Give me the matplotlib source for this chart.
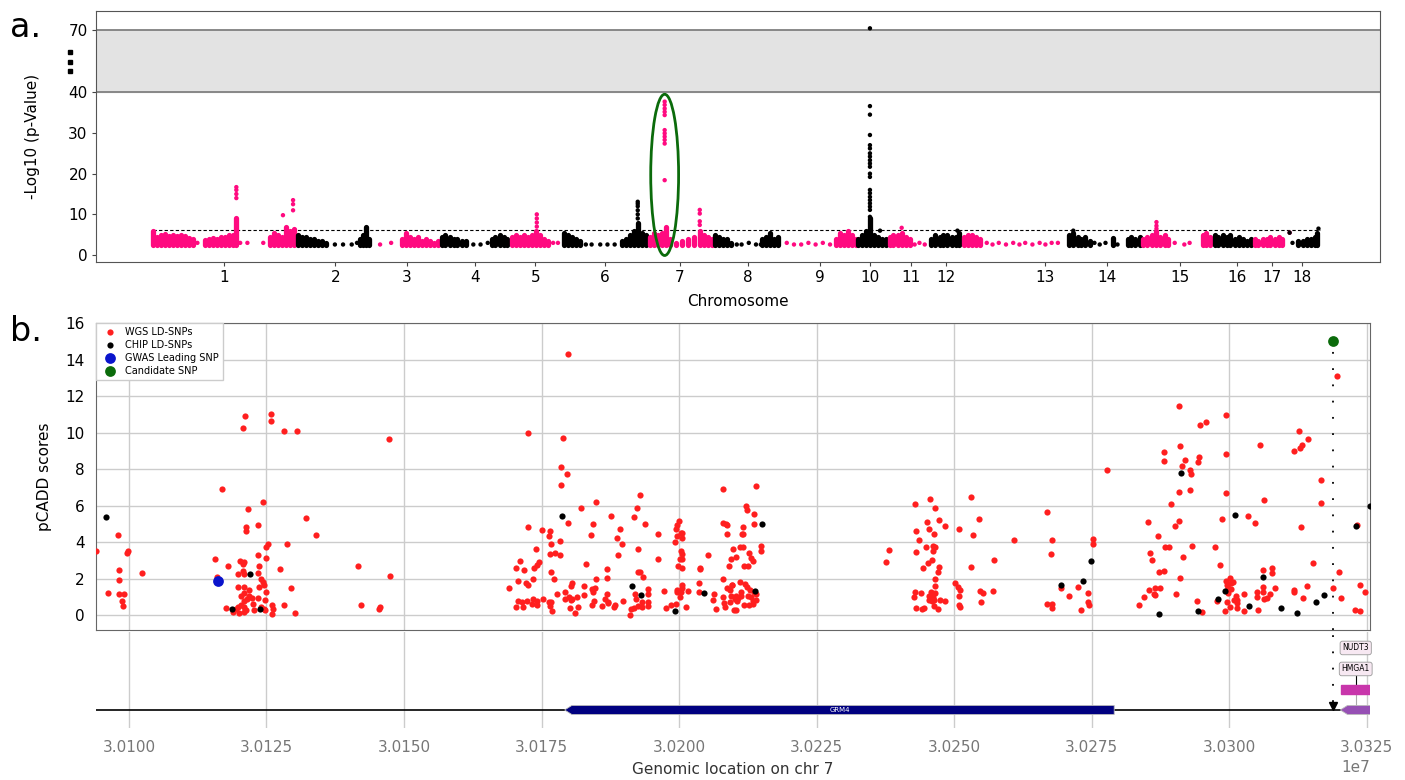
import numpy as np
import matplotlib.pyplot as plt
from matplotlib.patches import Ellipse, Polygon, Rectangle
from matplotlib.ticker import MultipleLocator

plt.rcParams['font.family'] = ['DejaVu Sans']

# ---------------- panel a: GWAS manhattan ----------------
chrom_names = [str(i) for i in range(1, 19)]
chrom_len = [297, 158, 141, 146, 108, 179, 135, 144, 156, 64, 87, 69, 218, 156, 146, 83, 71, 69]
chrom_tick = [148, 379, 528, 670, 795, 940, 1096, 1237, 1387, 1491, 1577, 1650, 1855, 1984, 2136, 2255, 2328, 2390]

# dense SNP columns: chromosome, position in chromosome (Mb), top -log10 p
col_chr = ([1] * 27 + [2] * 12 + [3] * 10 + [4] * 12 + [5] * 10 + [6] * 12 + [7] * 14 + [8] * 10
           + [9] * 6 + [10] * 8 + [11] * 6 + [12] * 8 + [13] * 5 + [14] * 11 + [15] * 10
           + [16] * 10 + [17] * 8 + [18] * 6)
col_pos = [0, 8, 17, 25, 33, 42, 50, 58, 67, 75, 83, 108, 116, 125, 133, 141, 150, 158, 166, 173,
           243, 252, 260, 268, 277, 285, 293,
           4, 12, 21, 29, 37, 46, 54, 62, 133, 139, 146, 152,
           62, 71, 79, 87, 96, 104, 112, 121, 129, 137,
           4, 12, 21, 29, 37, 46, 54, 108, 116, 125, 133, 141,
           4, 12, 21, 29, 37, 46, 54, 62, 71, 79,
           4, 12, 21, 29, 37, 125, 133, 141, 150, 158, 166, 175,
           4, 12, 21, 29, 37, 46, 58, 71, 83, 96, 108, 116, 125, 133,
           4, 12, 21, 29, 37, 102, 110, 119, 127, 135,
           112, 121, 129, 137, 146, 154,
           2, 10, 19, 27, 35, 44, 52, 60,
           4, 12, 21, 29, 37, 46,
           4, 12, 21, 29, 37, 46, 54, 62,
           2, 10, 19, 27, 35,
           4, 12, 21, 29, 37, 46, 94, 125, 133, 141, 150,
           2, 10, 19, 29, 37, 46, 54, 125, 133, 141,
           4, 12, 21, 29, 37, 46, 54, 62, 71, 79,
           4, 12, 21, 29, 37, 46, 54, 62,
           23, 33, 42, 50, 58, 64]
col_top = [6, 4.5, 5, 5.3, 4.6, 5, 4.6, 5, 4.6, 4.2, 4, 3.8, 4, 4.2, 4, 4.5, 4.5, 5, 5, 9,
           4.5, 5.5, 5, 4.5, 7, 6, 6.5,
           5, 4.5, 4.5, 4, 4, 3.5, 3.5, 3, 4, 5, 7, 4,
           4, 5.5, 4.5, 4, 4.5, 3.5, 4, 3.5, 3, 3.5,
           4.5, 5, 4.5, 4, 4, 3.5, 3.5, 4, 4.5, 5, 4.5, 4,
           4.5, 5, 4.5, 5, 4.5, 5, 6, 5, 4, 3.5,
           5.5, 5, 4.5, 4, 3.5, 3.5, 4, 5, 6, 8, 5.5, 5,
           4.5, 5.5, 5, 5.5, 7, 4, 3, 3.5, 4, 4.5, 6, 5, 4.5, 4,
           5, 4.5, 4, 4, 3, 4, 4.5, 5.5, 4, 4.5,
           4, 5.5, 5, 6, 5, 4,
           4, 5, 6, 9, 5, 4.5, 4, 4,
           4.5, 5, 5, 5.5, 4.5, 4,
           4, 5, 4.5, 5, 5, 4.5, 4.5, 5.5,
           4.5, 5, 5, 4.5, 4,
           5, 5.5, 4.5, 4, 4.5, 3.5, 4.2, 4, 4.5, 4, 4.5,
           4, 4.5, 5, 6, 4.5, 5, 4, 5, 5.5, 4.5,
           5, 4.5, 5, 4.5, 5, 4, 4.5, 4, 3.5, 4,
           4, 3.5, 4, 4, 4.5, 4, 4.5, 4,
           3.5, 3.5, 4, 4, 4.5, 5.5]

# single SNPs (sparse ones and the tall peaks)
dot_chr = ([1] * 12 + [2] * 4 + [3] * 2 + [4] * 3 + [5] * 6 + [6] * 11 + [7] * 15 + [8] * 5
           + [9] * 7 + [10] * 22 + [11] * 4 + [12] * 1 + [13] * 12 + [14] * 5 + [15] * 6 + [17] * 1
           + [18] * 3)
dot_pos = [92, 181, 196, 229, 173, 173, 173, 173, 270, 291, 291, 291,
           81, 98, 116, 127,
           17, 40,
           70, 85, 100,
           90, 100, 56, 56, 56, 56,
           50, 62, 80, 95, 110, 158, 158, 158, 158, 158, 158,
           35, 35, 35, 35, 35, 35, 35, 35, 35, 35, 35, 108, 108, 108, 108,
           50, 60, 75, 90, 100,
           10, 25, 40, 55, 70, 85, 100,
           27, 27, 27, 27, 27, 27, 27, 27, 27, 27, 27, 27, 27, 27, 27, 27, 27, 27, 27, 27, 27, 48,
           29, 56, 66, 77,
           58,
           50, 62, 75, 90, 105, 118, 130, 145, 160, 172, 185, 198,
           12, 56, 67, 79, 104,
           67, 87, 98, 29, 29, 29,
           77,
           6, 12, 66]
dot_val = [3, 3, 3, 3, 14, 15, 16, 16.7, 9.8, 11, 12.5, 13.5,
           2.6, 2.6, 2.6, 3,
           2.6, 3,
           2.6, 2.6, 3,
           3, 3, 7, 8, 9, 10,
           2.6, 2.6, 2.6, 2.6, 2.6, 9, 10, 11, 12, 12.6, 13.1,
           18.4, 27.4, 28.3, 29.1, 29.9, 30.7, 34.4, 35.2, 36.0, 36.9, 37.7, 7.4, 8.3, 10.2, 11.1,
           2.6, 2.6, 3, 2.6, 2.6,
           3, 2.6, 2.6, 3, 2.6, 3, 2.6,
           9.4, 11.1, 11.9, 12.7, 13.5, 14.3, 15.2, 16.0, 19.2, 20.0, 21.7, 22.5, 23.3, 24.2, 25.0,
           26.2, 27.0, 29.5, 34.5, 36.6, 71, 6,
           6.7, 2.6, 3, 2.6,
           6,
           3, 2.6, 3, 2.6, 3, 2.6, 3, 2.6, 3, 2.6, 3, 3,
           6, 3, 2.6, 3, 2.6,
           3, 2.6, 3, 6.5, 7.2, 8.1,
           5.5,
           5.5, 3, 6.5]
threshold = 6.1

# ---------------- panel b: LD SNPs (kb on chr 7) ----------------
wgs_snps = [
    (30121.1, 10.9), (30125.8, 11.0), (30125.8, 10.64), (30120.7, 10.27), (30128.1, 10.09), (30130.5, 10.09),
    (30147.2, 9.67), (30117.0, 6.92), (30124.3, 6.23), (30121.7, 5.83), (30132.1, 5.32), (30123.5, 4.94),
    (30121.3, 4.85), (30121.3, 4.61), (30098.0, 4.39), (30134.0, 4.39), (30128.8, 3.90), (30125.2, 3.92),
    (30124.9, 3.73), (30094.0, 3.52), (30099.8, 3.53), (30099.6, 3.44), (30115.7, 3.11), (30125.0, 3.13),
    (30123.4, 3.30), (30120.2, 3.00), (30121.0, 2.93), (30120.8, 2.82), (30118.0, 2.68), (30123.6, 2.70),
    (30098.1, 2.51), (30127.4, 2.55), (30141.7, 2.71), (30102.4, 2.33), (30120.8, 2.44), (30119.9, 2.28),
    (30121.0, 2.26), (30123.4, 2.31), (30098.2, 1.91), (30116.0, 2.08), (30124.0, 1.97), (30124.3, 1.80),
    (30147.4, 2.13), (30124.5, 1.68), (30123.7, 1.55), (30119.9, 1.53), (30121.0, 1.58), (30129.4, 1.49),
    (30121.8, 1.40), (30096.1, 1.24), (30098.1, 1.15), (30099.1, 1.17), (30121.0, 1.24), (30124.9, 1.26),
    (30120.3, 1.07), (30121.9, 1.07), (30122.4, 0.95), (30123.4, 0.95), (30121.4, 0.91), (30098.7, 0.77),
    (30120.9, 0.80), (30124.8, 0.82), (30122.6, 0.64), (30120.3, 0.58), (30128.2, 0.58), (30126.0, 0.58),
    (30099.0, 0.49), (30117.7, 0.42), (30119.9, 0.47), (30120.9, 0.44), (30121.3, 0.31), (30124.0, 0.46),
    (30124.5, 0.36), (30126.2, 0.36), (30124.7, 0.27), (30142.1, 0.55), (30145.6, 0.47), (30145.4, 0.36),
    (30119.0, 0.16), (30120.0, 0.13), (30120.9, 0.20), (30122.7, 0.31), (30126.0, 0.09), (30130.1, 0.15),
    (30119.5, 0.36),
    (30179.8, 14.32), (30172.5, 9.96), (30178.9, 9.73), (30178.6, 8.11), (30179.7, 7.74), (30178.5, 7.14),
    (30192.9, 6.58), (30184.9, 6.19), (30182.2, 5.87), (30192.3, 5.90), (30187.7, 5.45), (30191.8, 5.41),
    (30179.8, 5.08), (30184.4, 5.01), (30193.8, 5.01), (30172.5, 4.85), (30175.0, 4.66), (30176.5, 4.63),
    (30189.2, 4.75), (30176.3, 4.35), (30184.0, 4.41), (30188.8, 4.26), (30196.1, 4.48), (30178.3, 4.08),
    (30176.8, 3.88), (30189.7, 3.92), (30174.0, 3.62), (30176.6, 3.37), (30177.4, 3.41), (30178.3, 3.32),
    (30188.9, 3.33), (30192.5, 3.64), (30196.1, 3.10), (30171.0, 2.95), (30174.5, 2.93), (30170.3, 2.57),
    (30171.8, 2.48), (30173.7, 2.59), (30174.2, 2.75), (30183.0, 2.82), (30186.9, 2.55), (30192.5, 2.37),
    (30192.9, 2.37), (30176.7, 2.39), (30193.5, 2.09), (30170.8, 1.86), (30172.2, 1.77), (30172.6, 1.68),
    (30173.4, 2.00), (30177.2, 2.00), (30184.9, 1.99), (30186.9, 2.04), (30169.0, 1.51), (30180.5, 1.77),
    (30180.3, 1.60), (30182.7, 1.62), (30184.1, 1.46), (30184.7, 1.48), (30184.3, 1.29), (30194.4, 1.46),
    (30197.2, 1.33), (30177.8, 1.15), (30179.3, 1.26), (30180.0, 1.00), (30181.4, 1.00), (30182.7, 1.11),
    (30186.9, 1.18), (30192.0, 1.18), (30194.3, 1.15), (30170.7, 0.78), (30171.4, 0.73), (30172.4, 0.78),
    (30173.5, 0.87), (30174.1, 0.80), (30173.3, 0.64), (30174.2, 0.56), (30175.3, 0.87), (30176.4, 0.71),
    (30176.7, 0.71), (30179.2, 0.87), (30180.3, 0.82), (30180.6, 0.89), (30184.6, 0.77), (30186.5, 0.89),
    (30187.1, 0.75), (30188.4, 0.58), (30189.8, 0.78), (30192.1, 0.91), (30193.2, 0.71), (30194.3, 0.71),
    (30170.3, 0.46), (30171.6, 0.46), (30176.5, 0.49), (30176.9, 0.22), (30180.1, 0.40), (30181.7, 0.44),
    (30181.0, 0.11), (30184.2, 0.56), (30185.9, 0.53), (30187.0, 0.66), (30188.2, 0.46), (30191.3, 0.33),
    (30191.8, 0.40), (30191.1, 0.00), (30192.5, 0.51), (30193.3, 0.46), (30194.4, 0.49), (30197.6, 0.40),
    (30198.5, 0.58), (30199.5, 0.64),
    (30199.9, 5.14), (30199.6, 4.97), (30199.5, 4.72), (30200.3, 4.50), (30200.6, 4.50), (30199.6, 4.37),
    (30200.6, 4.23), (30199.3, 4.01), (30200.4, 3.52), (30200.6, 3.35), (30200.2, 3.10), (30200.6, 3.10),
    (30199.8, 2.70), (30200.5, 2.62), (30200.6, 1.68), (30200.5, 1.48), (30199.6, 1.37), (30199.6, 1.26),
    (30200.3, 1.26), (30200.1, 1.00), (30201.6, 1.35), (30201.2, 0.46),
    (30207.9, 6.90), (30208.0, 5.05), (30208.5, 4.99), (30208.8, 4.92), (30208.8, 4.44), (30209.8, 3.66),
    (30209.4, 3.11), (30205.3, 3.28), (30209.0, 2.68), (30203.8, 2.62), (30203.8, 2.53), (30207.9, 1.99),
    (30203.6, 1.79), (30209.7, 1.69), (30208.7, 1.49), (30209.2, 1.40), (30209.7, 1.68), (30203.7, 1.29),
    (30206.1, 0.86), (30206.4, 1.18), (30207.9, 0.98), (30209.4, 1.04), (30208.2, 0.67), (30209.2, 0.71),
    (30206.8, 0.36), (30208.4, 0.44), (30210.0, 0.27), (30210.2, 0.87),
    (30213.9, 7.09), (30212.2, 6.01), (30212.3, 5.77), (30213.6, 5.57), (30213.7, 4.99), (30211.6, 4.81),
    (30211.5, 4.46), (30211.7, 4.44), (30214.9, 3.79), (30214.9, 3.53), (30211.1, 3.72), (30211.6, 3.72),
    (30212.8, 3.42), (30210.4, 3.21), (30213.1, 3.15), (30213.4, 2.95), (30211.8, 2.71), (30212.6, 2.68),
    (30211.1, 1.82), (30212.0, 1.73), (30212.3, 1.58), (30212.9, 1.37), (30211.3, 1.29), (30213.7, 1.29),
    (30210.4, 1.04), (30210.8, 0.93), (30211.3, 1.04), (30212.5, 1.04), (30213.1, 1.00), (30214.0, 1.18),
    (30210.5, 0.77), (30211.8, 0.58), (30212.7, 0.56), (30213.5, 0.77), (30214.0, 0.86), (30210.4, 0.29),
    (30213.4, 0.64),
    (30238.2, 3.57), (30237.7, 2.91), (30245.6, 6.38), (30242.9, 6.10), (30246.5, 5.85), (30245.0, 5.12),
    (30247.3, 5.23), (30245.4, 4.74), (30248.3, 4.90), (30243.1, 4.61), (30246.3, 4.44), (30243.6, 4.12),
    (30243.0, 3.48), (30244.9, 3.75), (30246.1, 3.77), (30246.6, 3.72), (30246.2, 3.50), (30245.9, 3.01),
    (30245.3, 2.86), (30244.4, 2.62), (30247.3, 2.66), (30247.1, 2.35), (30246.6, 2.00), (30246.5, 1.60),
    (30242.9, 1.26), (30244.0, 1.24), (30245.8, 1.29), (30246.6, 1.22), (30242.7, 1.00), (30245.5, 1.04),
    (30245.8, 0.95), (30246.1, 1.00), (30245.4, 0.82), (30246.4, 0.86), (30247.4, 0.82), (30248.3, 0.80),
    (30243.1, 0.42), (30244.1, 0.36), (30244.6, 0.40), (30246.3, 0.49), (30247.1, 0.33), (30245.9, 0.77),
    (30253.1, 6.47), (30254.5, 5.26), (30250.8, 4.75), (30253.5, 4.41), (30260.9, 4.10), (30257.2, 3.04),
    (30253.1, 2.64), (30250.2, 1.79), (30250.7, 1.58), (30251.0, 1.37), (30250.8, 1.07), (30250.9, 0.58),
    (30251.0, 0.46), (30254.7, 1.31), (30255.2, 1.20), (30254.8, 0.73), (30257.0, 1.31), (30266.8, 5.68),
    (30267.7, 4.10), (30267.6, 3.35), (30266.8, 0.62), (30267.7, 0.62), (30267.8, 0.40),
    (30269.5, 1.49), (30272.5, 1.58), (30270.8, 1.04), (30274.3, 1.22), (30274.3, 0.73), (30274.5, 0.56),
    (30273.1, 0.27), (30275.2, 4.19), (30275.2, 3.92), (30277.8, 7.96),
    (30290.9, 11.44), (30299.5, 10.97), (30295.8, 10.56), (30294.7, 10.40), (30291.0, 9.29), (30299.5, 8.82),
    (30288.2, 8.93), (30288.2, 8.45), (30291.9, 8.49), (30294.5, 8.65), (30294.4, 8.40), (30291.5, 8.16),
    (30292.8, 7.96), (30293.1, 7.74), (30290.9, 6.76), (30292.9, 6.87), (30299.5, 6.70), (30289.4, 6.08),
    (30285.3, 5.10), (30290.8, 5.15), (30290.1, 4.88), (30298.7, 5.28), (30287.0, 4.32), (30288.3, 3.72),
    (30289.0, 3.72), (30293.3, 3.79), (30297.5, 3.72), (30285.6, 3.44), (30285.9, 3.01), (30291.6, 3.19),
    (30287.3, 2.35), (30288.2, 2.44), (30298.4, 2.75), (30291.1, 2.04), (30285.4, 1.38), (30286.6, 1.48),
    (30287.4, 1.48), (30286.3, 1.18), (30286.6, 1.13), (30284.6, 1.00), (30283.6, 0.58), (30290.4, 1.17),
    (30294.1, 0.78), (30295.1, 0.18), (30297.8, 0.77), (30299.2, 0.24), (30299.5, 1.86), (30300.1, 2.06),
    (30299.6, 1.68), (30300.4, 1.77), (30300.7, 1.84), (30299.8, 1.49), (30300.3, 1.44), (30299.8, 1.22),
    (30301.3, 1.04), (30300.8, 0.86), (30301.5, 0.82), (30299.6, 0.73), (30301.5, 0.67), (30300.1, 0.47),
    (30301.5, 0.40), (30302.7, 0.22), (30302.7, 1.17), (30303.5, 5.45), (30304.7, 5.06), (30305.6, 9.33),
    (30306.3, 6.34), (30306.1, 2.51), (30307.8, 2.62), (30307.8, 2.30), (30305.0, 1.29), (30306.1, 1.55),
    (30306.1, 1.29), (30305.0, 1.02), (30306.4, 0.91), (30306.9, 0.95), (30307.4, 1.17), (30308.3, 1.48),
    (30305.2, 0.31), (30312.7, 10.09), (30314.3, 9.67), (30313.3, 9.31), (30312.9, 9.14), (30311.8, 9.02),
    (30316.7, 7.41), (30316.7, 6.17), (30313.0, 4.83), (30315.2, 2.84), (30311.7, 1.40), (30311.7, 1.26),
    (30314.2, 1.62), (30313.4, 0.95), (30318.8, 1.49), (30319.6, 13.10), (30320.0, 2.40), (30320.3, 0.93),
    (30323.3, 4.92), (30323.8, 1.69), (30324.6, 1.29), (30322.9, 0.27), (30323.8, 0.24),
]
chip_snps = [
    (30095.8, 5.41), (30122.0, 2.26), (30118.8, 0.35), (30123.8, 0.36),
    (30178.8, 5.45), (30191.4, 1.62), (30193.1, 1.09), (30199.2, 0.24), (30204.6, 1.22),
    (30215.0, 5.01), (30213.8, 1.35),
    (30269.4, 1.64), (30273.4, 1.86), (30274.9, 2.97), (30291.3, 7.81), (30294.4, 0.22), (30287.3, 0.07),
    (30297.9, 0.87), (30299.3, 1.31), (30301.0, 5.48), (30303.6, 0.49), (30306.1, 2.09), (30309.4, 0.42),
    (30312.3, 0.11), (30315.8, 0.75), (30317.3, 1.09), (30323.1, 4.88), (30325.6, 5.97),
]
gwas_lead = (30116.2, 1.90)
candidate = (30318.9, 15.0)

gene_names = ['GRM4', 'HMGA1', 'NUDT3']
gene_start = [30179.2, 30320.4, 30320.2]
gene_end = [30279.1, 30330.0, 30330.0]

PINK = '#ff0a80'
RED = '#ff1f1f'

fig = plt.figure(figsize=(14.05, 7.8), dpi=100)

# ---------- a ----------
ax_a = fig.add_axes([0.0683, 0.6641, 0.9139, 0.3218])
k = 15.2 / 30.0


def fwd(y):
    y = np.asarray(y, dtype=float)
    return np.where(y <= 40, y, 40 + (y - 40) * k)


def inv(u):
    u = np.asarray(u, dtype=float)
    return np.where(u <= 40, u, 40 + (u - 40) / k)


ax_a.set_yscale('function', functions=(fwd, inv))
offsets = np.concatenate([[0], np.cumsum(chrom_len)[:-1]])
total = float(np.sum(chrom_len))

cc = np.array(col_chr)
cx = offsets[cc - 1] + np.array(col_pos)
ccol = [PINK if c % 2 == 1 else 'black' for c in cc]
ax_a.vlines(cx, 2.4, col_top, colors=ccol, lw=3.8, capstyle='round', zorder=3)

dc = np.array(dot_chr)
dx = offsets[dc - 1] + np.array(dot_pos)
dcol = [PINK if c % 2 == 1 else 'black' for c in dc]
ax_a.scatter(dx, dot_val, s=10, c=dcol, lw=0, zorder=3)

ax_a.axhspan(40, 70, color='#e3e3e3', zorder=0)
ax_a.axhline(40, color='#777777', lw=1.2, zorder=1)
ax_a.axhline(70, color='#777777', lw=1.2, zorder=1)
ax_a.hlines(threshold, 0, total, colors='black', linestyles=(0, (3, 2)), lw=0.8, zorder=2)

ell_x = offsets[6] + 35
ax_a.add_patch(Ellipse((ell_x, 19.7), 58, 39.6, fill=False, edgecolor='#0b6b0b', lw=2, zorder=4))

ax_a.set_xlim(-119, 2552)
ax_a.set_ylim(-1.7, 79.4)
ax_a.set_yticks([0, 10, 20, 30, 40, 70])
ax_a.set_xticks(chrom_tick)
ax_a.set_xticklabels(chrom_names)
ax_a.tick_params(labelsize=11, color='#444444', length=3, pad=3)
ax_a.set_xlabel('Chromosome', fontsize=11, labelpad=6)
ax_a.set_ylabel('-Log10 (p-Value)', fontsize=11, labelpad=20)
for s in ax_a.spines.values():
    s.set_color('#555555')
# axis break marks between 40 and 70
ax_a.plot([-0.02, -0.02, -0.02], [50.3, 54.6, 59.5], ls='none', marker='s', ms=3.4, color='black',
          transform=ax_a.get_yaxis_transform(), clip_on=False)

# ---------- b ----------
ax_b = fig.add_axes([0.0683, 0.1923, 0.9068, 0.3936])
ax_t = fig.add_axes([0.0683, 0.0667, 0.9068, 0.1231], sharex=ax_b)

wx = np.array([p[0] for p in wgs_snps]) * 1000
wy = np.array([p[1] for p in wgs_snps])
bx = np.array([p[0] for p in chip_snps]) * 1000
by = np.array([p[1] for p in chip_snps])

ax_b.scatter(wx, wy, s=20, color=RED, lw=0, zorder=3, label='WGS LD-SNPs')
ax_b.scatter(bx, by, s=20, color='black', lw=0, zorder=3, label='CHIP LD-SNPs')
ax_b.scatter([gwas_lead[0] * 1000], [gwas_lead[1]], s=60, color='#0a14cc', lw=0, zorder=4,
             label='GWAS Leading SNP')
ax_b.scatter([candidate[0] * 1000], [candidate[1]], s=60, color='#0b6b0b', lw=0, zorder=4,
             label='Candidate SNP')
ax_b.vlines(candidate[0] * 1000, -0.8, candidate[1] - 0.4, colors='black', linestyles=(0, (1, 8)), lw=1.3)

ax_b.set_xlim(30094000, 30325600)
ax_b.set_ylim(-0.8, 16)
ax_b.set_yticks(np.arange(0, 17, 2))
ax_b.xaxis.set_major_locator(MultipleLocator(25000))
ax_b.grid(True, color='#cccccc', lw=1)
ax_b.set_axisbelow(True)
ax_b.tick_params(axis='x', labelbottom=False, length=0)
ax_b.tick_params(axis='y', length=0, labelsize=11, pad=8)
ax_b.set_ylabel('pCADD scores', fontsize=11, labelpad=10)
for s in ax_b.spines.values():
    s.set_color('#666666')
leg = ax_b.legend(loc='upper left', fontsize=7, borderaxespad=0, fancybox=False, framealpha=1,
                  edgecolor='#cccccc', handletextpad=0.6, borderpad=0.4, labelspacing=0.3)

# ---------- gene track ----------
for s in ax_t.spines.values():
    s.set_visible(False)
ax_t.set_ylim(0, 96)
ax_t.set_yticks([])
ax_t.grid(True, axis='x', color='#cccccc', lw=1)
ax_t.set_axisbelow(True)
ax_t.tick_params(axis='x', length=0, labelsize=11, labelcolor='#777777', pad=9)
ax_t.ticklabel_format(axis='x', style='sci', scilimits=(0, 0), useOffset=False)
ax_t.xaxis.get_offset_text().set_color('#777777')
ax_t.xaxis.get_offset_text().set_fontsize(11)
ax_t.set_xlabel('Genomic location on chr 7', fontsize=11, color='#333333', labelpad=5)
ax_t.hlines(18, 30094000, 30325600, colors='black', lw=1.2, zorder=2)

tip = 1300
for i, (gs, ge) in enumerate(zip(gene_start, gene_end)):
    gs *= 1000
    ge *= 1000
    if gene_names[i] == 'HMGA1':
        ax_t.add_patch(Rectangle((gs, 34), ge - gs, 9, facecolor='#c836ab', edgecolor='#c836ab', zorder=3))
        continue
    col = '#000080' if gene_names[i] == 'GRM4' else '#9650b4'
    poly = Polygon([(gs, 18), (gs + tip, 22.5), (ge, 22.5), (ge, 13.5), (gs + tip, 13.5)],
                   closed=True, facecolor=col, edgecolor='#bbbbbb', lw=0.6, zorder=3)
    ax_t.add_patch(poly)
    if gene_names[i] == 'GRM4':
        ax_t.text((gs + ge) / 2, 18, 'GRM4', color='white', fontsize=5, ha='center', va='center', zorder=4)

lab_x = (gene_start[1] * 1000 + 30325600) / 2
ax_t.vlines(lab_x, 43, 53, colors='black', lw=0.8, zorder=2)
ax_t.vlines(lab_x, 22, 34, colors='#aaaaaa', lw=0.8, zorder=2)
for name, yy in [('NUDT3', 80), ('HMGA1', 59)]:
    ax_t.text(lab_x, yy, name, fontsize=5.5, ha='center', va='center', zorder=5,
              bbox=dict(boxstyle='round,pad=0.3', facecolor='#f7e8f2', edgecolor='#999999', lw=0.6))
ax_t.vlines(candidate[0] * 1000, 26, 96, colors='black', linestyles=(0, (1, 8)), lw=1.3)
ax_t.plot([candidate[0] * 1000], [22], marker='v', ms=6, color='black', zorder=5)
ax_t.set_xlim(30094000, 30325600)

fig.text(10 / 1405, 1 - 37 / 780, 'a.', fontsize=24)
fig.text(10 / 1405, 1 - 341 / 780, 'b.', fontsize=24)

fig.savefig('out.png', dpi=100)
